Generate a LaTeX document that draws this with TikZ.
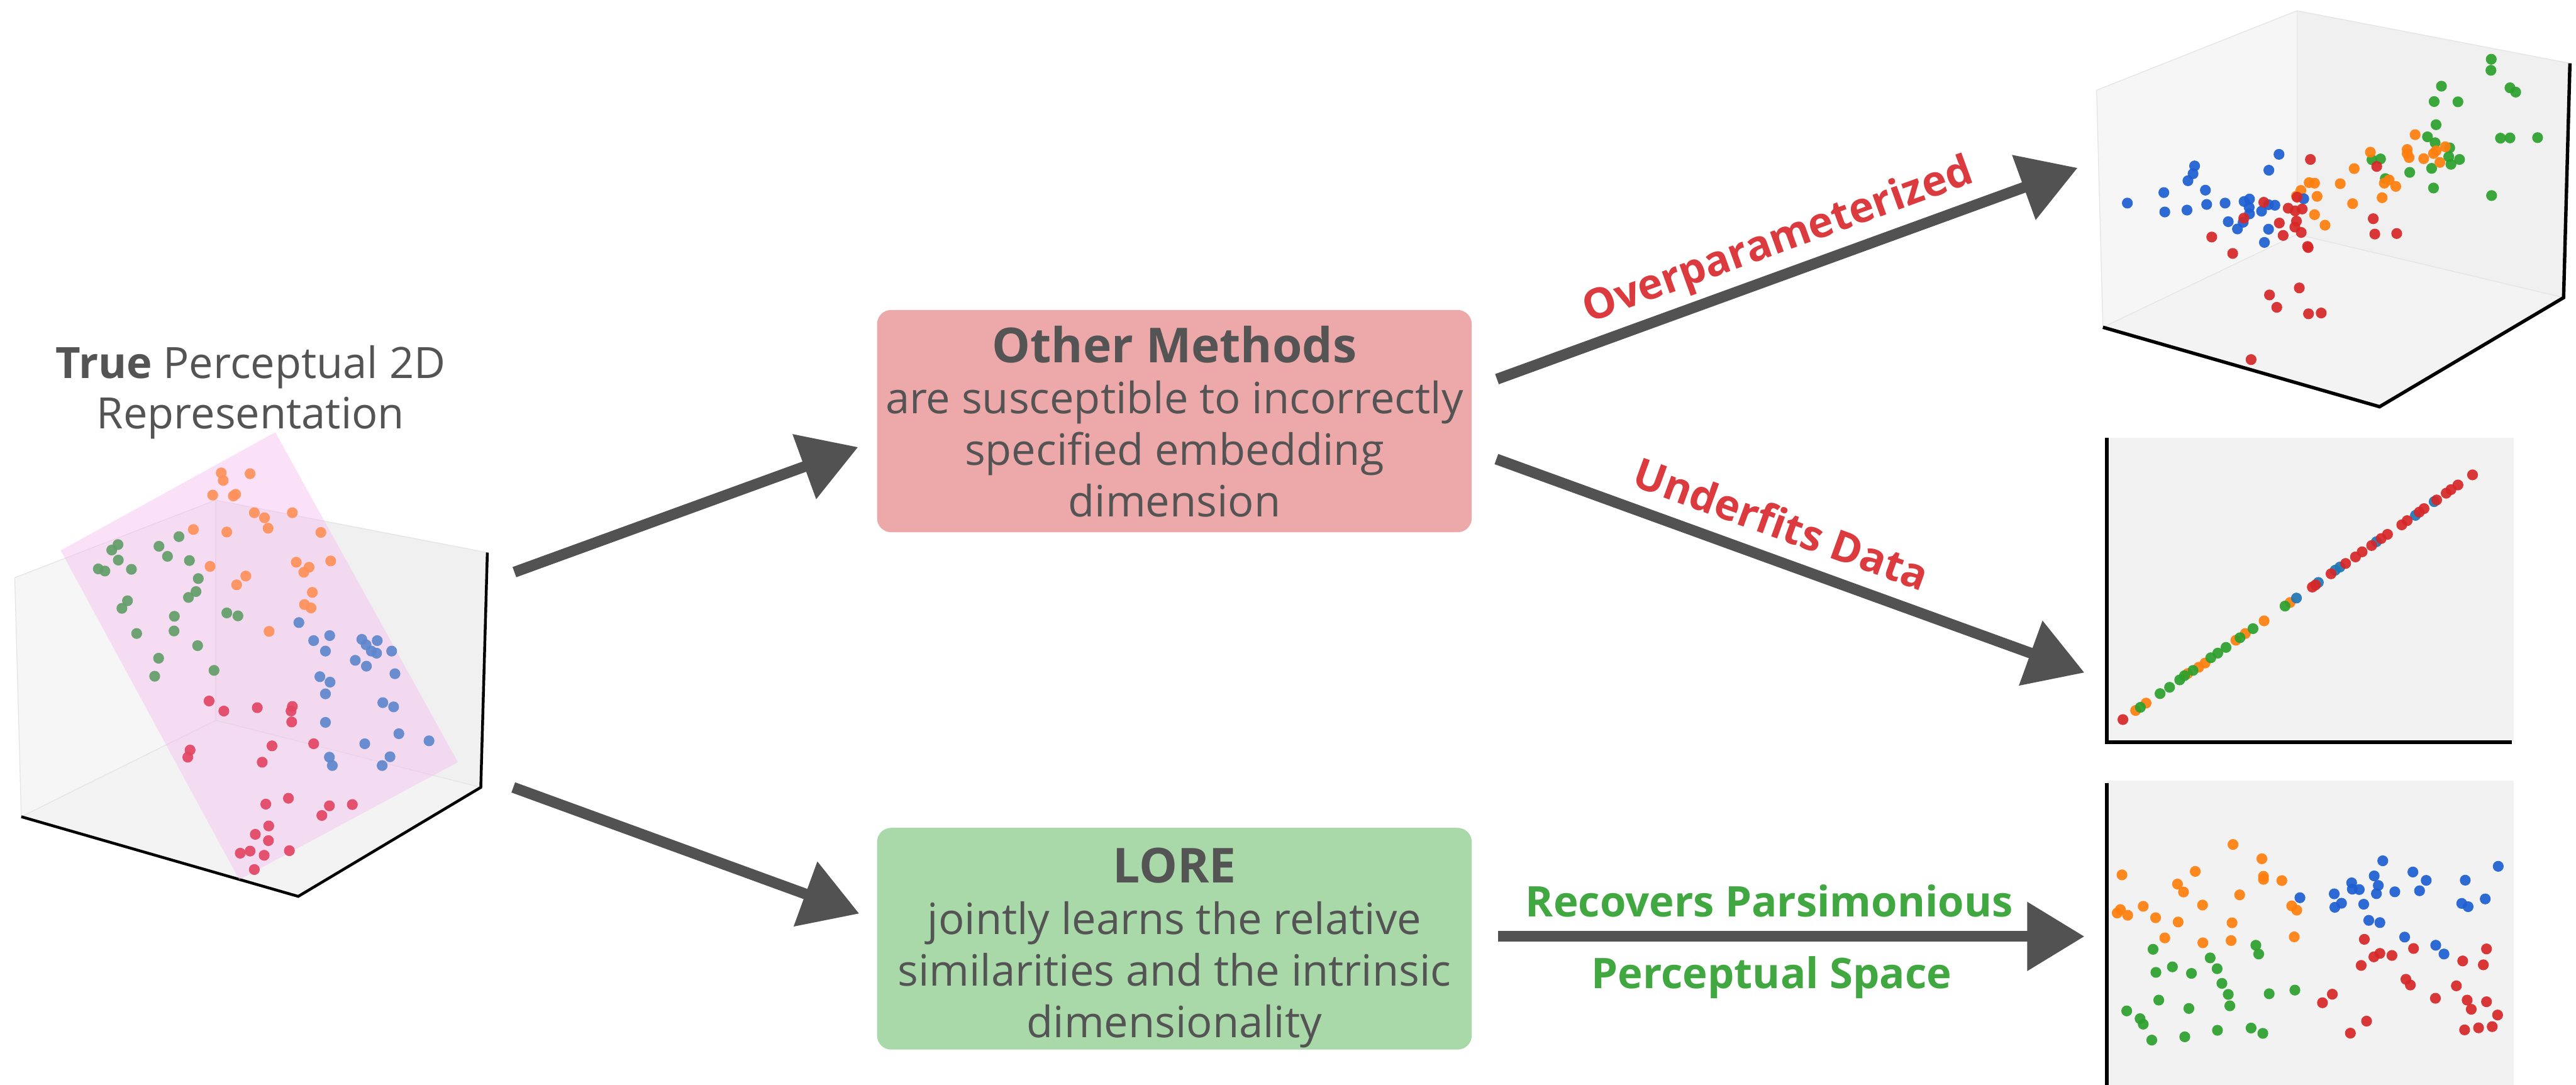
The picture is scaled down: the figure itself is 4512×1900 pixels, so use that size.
\documentclass[tikz,border=0pt]{standalone}
\usepackage{fontspec}
\setmainfont{Open Sans}
\usetikzlibrary{arrows.meta}
\definecolor{txt}{RGB}{84,84,84}
\definecolor{arrowgray}{RGB}{82,82,82}
\definecolor{pinkbox}{RGB}{237,168,169}
\definecolor{greenbox}{RGB}{169,217,169}
\definecolor{redlab}{RGB}{219,58,62}
\definecolor{greenlab}{RGB}{65,168,65}
\definecolor{wallL}{RGB}{246,246,246}
\definecolor{wallR}{RGB}{240,240,240}
\definecolor{floorc}{RGB}{243,243,243}
\definecolor{panel}{RGB}{242,242,242}
\definecolor{edgec}{RGB}{228,228,228}
\definecolor{planec}{RGB}{245,190,240}
\definecolor{lgreen}{RGB}{98,158,104}
\definecolor{lorange}{RGB}{255,145,90}
\definecolor{lblue}{RGB}{95,135,205}
\definecolor{lred}{RGB}{226,70,100}
\definecolor{cblue}{RGB}{30,95,210}
\definecolor{tblue}{RGB}{31,119,180}
\definecolor{corange}{RGB}{255,127,14}
\definecolor{cgreen}{RGB}{44,160,44}
\definecolor{cred}{RGB}{214,39,40}
\tikzset{
  bigarrow/.style={draw=arrowgray, line width=5.4pt, -{Triangle[length=28.5pt, width=33pt]}},
  pbox/.style={fill=pinkbox, rounded corners=7pt, minimum width=10.41cm, minimum height=3.89cm, inner sep=0pt},
  gbox/.style={fill=greenbox, rounded corners=7pt, minimum width=10.41cm, minimum height=3.88cm, inner sep=0pt},
  bodytxt/.style={text=txt, inner sep=0pt, anchor=base, font=\fontsize{21.5pt}{25pt}\selectfont},
  headtxt/.style={text=txt, inner sep=0pt, anchor=base, font=\fontsize{24pt}{29pt}\selectfont\bfseries},
  titletxt/.style={text=txt, inner sep=0pt, anchor=base, font=\fontsize{21.5pt}{26pt}\selectfont},
  labtxt/.style={inner sep=0pt, anchor=base, font=\fontsize{21pt}{26pt}\selectfont\bfseries},
  axis/.style={black, line width=1.7pt},
  faint/.style={draw=edgec, line width=0.4pt},
  dot/.style={fill=#1, fill opacity=0.92},
}
\newcommand{\plotdots}[2]{\foreach \px/\py in {#2} {\fill[dot=#1] (\px,\py) circle[radius=2.7pt];}}
\begin{document}
\begin{tikzpicture}[x=0.01cm, y=-0.01cm]
\useasboundingbox (0,0) rectangle (4512,1900);
\fill[white] (0,0) rectangle (4512,1900);

% ---------------- left 3D plot ----------------
\node[titletxt] (title1) at (439,663) {\textbf{True} Perceptual 2D};
\node[titletxt] (title2) at (439,751) {Representation};
\begin{scope}[shift={(0,450)}, x=0.00574cm, y=-0.007334cm]
  \fill[floorc] (65,1335) -- (658,1105) -- (1467,1265) -- (910,1525) -- cycle;
  \fill[wallL] (45,765) -- (658,580) -- (658,1105) -- (65,1335) -- cycle;
  \fill[wallR] (658,580) -- (1487,705) -- (1467,1265) -- (658,1105) -- cycle;
  \draw[faint] (45,765) -- (658,580) -- (1487,705);
  \draw[faint] (45,765) -- (65,1335);
  \draw[faint] (658,580) -- (658,1105);
  \draw[faint] (65,1335) -- (658,1105) -- (1467,1265);
  \draw[axis, line width=1.4pt] (65,1335) -- (910,1525) -- (1467,1265) -- (1487,705);
  \fill[planec, fill opacity=0.45] (185,700) -- (840,418) -- (1397,1205) -- (730,1485) -- cycle;
  \plotdots{lorange}{675/515, 763/517, 681/533, 649/568, 712/570, 719/566, 776/610, 807/622, 892/610, 818/647, 590/650, 692/656, 979/657, 641/738, 904/728, 1009/725, 943/740, 927/752, 750/761, 722/782, 953/800, 929/829, 949/837, 821/893}
  \plotdots{lgreen}{360/686, 341/699, 485/690, 546/667, 511/714, 361/723, 300/744, 320/749, 401/745, 578/724, 605/767, 598/798, 575/812, 389/820, 372/838, 532/857, 692/849, 726/856, 417/898, 531/892, 603/927, 484/957, 653/986, 472/1000}
  \plotdots{lblue}{912/872, 1006/903, 957/915, 993/940, 1104/912, 1117/925, 1151/915, 1133/940, 1149/945, 1195/940, 1084/962, 1118/976, 1205/994, 976/1001, 1007/1014, 993/1042, 1168/1063, 1201/1073, 993/1110, 1217/1137, 1309/1154, 1113/1161, 1005/1193, 1190/1192, 1014/1213, 1166/1213}
  \plotdots{lred}{638/1059, 683/1083, 785/1075, 892/1072, 888/1083, 890/1109, 580/1176, 573/1193, 830/1166, 957/1161, 800/1205, 811/1305, 880/1291, 1005/1309, 1075/1306, 982/1332, 820/1357, 779/1377, 819/1392, 733/1422, 763/1417, 806/1427, 883/1416, 776/1461}
\end{scope}

% ---------------- boxes ----------------
\node[pbox] (other) at (2057,737.5) {};
\node[headtxt] (om1) at (2057,635) {Other Methods};
\node[bodytxt] (om2) at (2057,724) {are susceptible to incorrectly};
\node[bodytxt] (om3) at (2057,815) {specified embedding};
\node[bodytxt] (om4) at (2057,905) {dimension};

\node[gbox] (lore) at (2057,1644) {};
\node[headtxt] (lo1) at (2057,1546) {LORE};
\node[bodytxt] (lo2) at (2057,1636) {jointly learns the relative};
\node[bodytxt] (lo3) at (2057,1727) {similarities and the intrinsic};
\node[bodytxt] (lo4) at (2057,1817) {dimensionality};

% ---------------- arrows ----------------
\coordinate (a1s) at (901,1002);  \coordinate (a1e) at (1503,783);
\coordinate (a2s) at (899,1379);  \coordinate (a2e) at (1505,1600);
\coordinate (a3s) at (2622,664);  \coordinate (a3e) at (3639,294);
\coordinate (a4s) at (2621,804);  \coordinate (a4e) at (3651,1178);
\coordinate (a5s) at (2624,1640); \coordinate (a5e) at (3651,1640);
\draw[bigarrow] (a1s) -- (a1e);
\draw[bigarrow] (a2s) -- (a2e);
\draw[bigarrow] (a3s) -- (a3e);
\draw[bigarrow] (a4s) -- (a4e);
\draw[bigarrow] (a5s) -- (a5e);

\node[labtxt, text=redlab, rotate=20] (lab1) at (3122,442) {Overparameterized};
\node[labtxt, text=redlab, rotate=-20] (lab2) at (3111,943) {Underfits Data};
\node[labtxt, text=greenlab] (lab3) at (3099,1605) {Recovers Parsimonious};
\node[labtxt, text=greenlab] (lab4) at (3103,1731) {Perceptual Space};

% ---------------- top right 3D plot ----------------
\begin{scope}[shift={(3640,0)}, x=0.005561cm, y=-0.004719cm]
  \fill[floorc] (78,1215) -- (690,870) -- (1530,1105) -- (950,1510) -- cycle;
  \fill[wallL] (58,335) -- (690,40) -- (690,870) -- (78,1215) -- cycle;
  \fill[wallR] (690,40) -- (1550,235) -- (1530,1105) -- (690,870) -- cycle;
  \draw[faint] (58,335) -- (690,40) -- (1550,235);
  \draw[faint] (58,335) -- (78,1215);
  \draw[faint] (690,40) -- (690,870);
  \draw[faint] (78,1215) -- (690,870) -- (1530,1105);
  \draw[axis] (78,1215) -- (950,1510) -- (1530,1105) -- (1550,235);
  \plotdots{cgreen}{1302/220, 1301/261, 1145/320, 1361/326, 1379/342, 1122/377, 1197/378, 1128/463, 1101/508, 1331/513, 1361/512, 1448/511, 1125/530, 1171/549, 1168/582, 1202/592, 1175/610, 926/593, 953/590, 1114/625, 1045/640, 968/663, 1120/698, 1303/726}
  \plotdots{corange}{1062/500, 921/565, 1037/555, 1037/570, 1043/585, 1089/589, 1120/570, 1128/560, 1157/545, 1140/603, 870/626, 965/680, 980/668, 1001/692, 826/682, 728/678, 745/680, 702/707, 753/729, 958/734, 865/756, 745/797, 778/836, 688/728}
  \plotdots{cblue}{633/573, 367/616, 362/645, 601/632, 346/671, 270/715, 401/706, 155/754, 405/759, 463/754, 523/748, 540/739, 539/770, 711/738, 620/762, 600/760, 273/787, 343/780, 578/784, 540/794, 473/823, 520/825, 502/850, 600/851, 587/900}
  \plotdots{cred}{732/592, 941/618, 585/751, 690/732, 662/773, 684/783, 706/776, 522/810, 634/828, 688/821, 683/843, 703/863, 646/874, 421/880, 930/812, 935/869, 1004/867, 723/915, 725/919, 487/941, 697/1069, 603/1095, 626/1141, 726/1165, 766/1162, 545/1335}
\end{scope}

% ---------------- middle right 2D plot ----------------
\begin{scope}[shift={(3640,740)}, x=0.005561cm, y=-0.003699cm]
  \fill[panel] (90,72) rectangle (1372,1512);
  \draw[axis] (90,72) -- (90,1515) -- (1367,1515);
  \plotdots{corange}{181/1365, 214/1330, 345/1190, 380/1160, 400/1140, 497/1032, 527/1000, 586/940, 668/853}
  \plotdots{cgreen}{196/1350, 258/1285, 288/1255, 320/1220, 335/1200, 362/1175, 418/1115, 440/1093, 466/1066, 510/1020, 551/977, 652/870}
  \plotdots{tblue}{688/832, 757/758, 810/700, 825/685, 940/565, 1063/440, 1122/375}
  \plotdots{cred}{141/1408, 738/780, 748/770, 797/717, 843/668, 874/637, 895/613, 925/583, 955/550, 975/530, 1020/485, 1037/465, 1075/425, 1090/408, 1130/367, 1160/335, 1175/318, 1197/296, 1243/248}
\end{scope}

% ---------------- bottom right 2D plot ----------------
\begin{scope}[shift={(3640,1340)}, x=0.005561cm, y=-0.003571cm]
  \fill[panel] (90,75) rectangle (1372,1568);
  \draw[axis] (90,88) -- (90,1568);
  \plotdots{corange}{488/389, 579/459, 138/538, 369/521, 584/545, 584/560, 642/566, 313/583, 332/622, 509/636, 392/686, 205/692, 133/708, 123/725, 156/736, 673/690, 689/711, 244/748, 315/769, 485/773, 273/847, 393/871, 482/860, 681/842}
  \plotdots{cblue}{960/469, 1324/496, 933/543, 1055/524, 1097/565, 1220/564, 862/577, 946/590, 864/608, 886/610, 940/630, 998/621, 1076/616, 699/650, 807/631, 1283/656, 830/677, 809/697, 900/682, 1209/678, 1229/694, 916/761, 951/772, 1029/843, 1127/883, 1153/926}
  \plotdots{cred}{902/854, 1057/899, 1287/901, 951/923, 932/940, 989/933, 1212/960, 892/982, 1277/979, 1033/1050, 1047/1078, 1192/1082, 801/1123, 770/1165, 1126/1143, 1226/1152, 1287/1160, 1239/1197, 1322/1225, 909/1255, 858/1314, 1218/1298, 1262/1288, 1305/1282}
  \plotdots{cgreen}{560/883, 569/926, 236/903, 416/945, 297/989, 245/1016, 357/1021, 438/998, 453/1070, 473/1124, 602/1121, 683/1103, 254/1152, 349/1193, 478/1180, 153/1205, 195/1243, 205/1270, 439/1300, 545/1289, 582/1315, 232/1348, 336/1332}
\end{scope}
\end{tikzpicture}
\end{document}
